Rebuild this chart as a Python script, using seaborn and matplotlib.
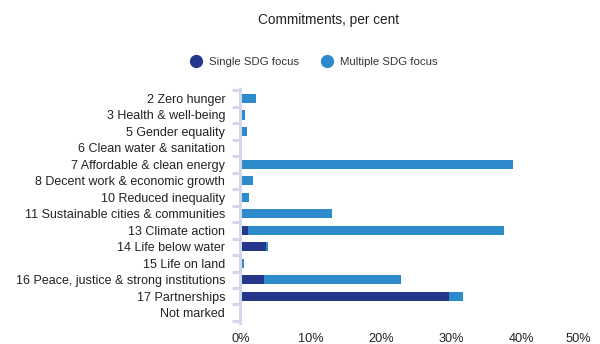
import matplotlib
matplotlib.use("Agg")
import matplotlib.pyplot as plt
from matplotlib.lines import Line2D
import seaborn as sns
import pandas as pd
import numpy as np

categories = [
    "2 Zero hunger",
    "3 Health & well-being",
    "5 Gender equality",
    "6 Clean water & sanitation",
    "7 Affordable & clean energy",
    "8 Decent work & economic growth",
    "10 Reduced inequality",
    "11 Sustainable cities & communities",
    "13 Climate action",
    "14 Life below water",
    "15 Life on land",
    "16 Peace, justice & strong institutions",
    "17 Partnerships",
    "Not marked",
]
single_focus = [0.0, 0.0, 0.0, 0.0, 0.0, 0.0, 0.0, 0.0, 1.0, 3.6, 0.0, 3.35, 29.7, 0.0]
multiple_focus = [2.2, 0.65, 0.95, 0.0, 38.8, 1.8, 1.2, 13.1, 36.5, 0.3, 0.45, 19.55, 2.0, 0.0]
x_ticks = [0, 10, 20, 30, 40, 50]

dark = "#24378a"
light = "#2e8bcb"
axis_col = "#d3d7ec"
text_col = "#222222"

sns.set_theme(style="white")
plt.rcParams["font.family"] = ["Liberation Sans", "DejaVu Sans"]

df = pd.DataFrame({
    "category": categories,
    "single": single_focus,
    "multiple": multiple_focus,
})
df["total"] = df["single"] + df["multiple"]

fig = plt.figure(figsize=(6.0, 3.44), dpi=100)
ax = fig.add_axes([0.4008, 0.055, 0.585, 0.69])

sns.barplot(data=df, y="category", x="total", color=light, width=0.56,
            orient="h", ax=ax, saturation=1, linewidth=0)
sns.barplot(data=df, y="category", x="single", color=dark, width=0.56,
            orient="h", ax=ax, saturation=1, linewidth=0)

n = len(categories)
ax.set_xlim(0, 50)
ax.set_ylim(n - 0.5 + 0.25, -0.5 - 0.15)
ax.set_xticks(x_ticks)
labels = ax.set_xticklabels([f"{t}%" for t in x_ticks], fontsize=9.2, color=text_col)
labels[-1].set_horizontalalignment("right")
labels[-1].set_x(50.2)
ax.set_xlabel("")
ax.set_ylabel("")
ax.tick_params(axis="y", which="major", left=False, length=0, pad=11,
               labelsize=9.0, labelcolor=text_col)
ax.tick_params(axis="x", bottom=False, length=0, pad=6)

# boundary ticks on the category axis
ax.set_yticks(np.arange(-0.5, n + 0.5, 1), minor=True)
ax.tick_params(axis="y", which="minor", left=True, length=6, width=2.2,
               color=axis_col, direction="out")

for side in ["top", "right", "bottom"]:
    ax.spines[side].set_visible(False)
ax.spines["left"].set_color(axis_col)
ax.spines["left"].set_linewidth(2.2)
ax.spines["left"].set_bounds(n - 0.5 + 0.15, -0.5 - 0.05)

fig.text(0.547, 0.942, "Commitments, per cent", ha="center", va="center",
         fontsize=9.8, color=text_col)

handles = [
    Line2D([0], [0], marker="o", linestyle="", markersize=8.5, markerfacecolor=dark,
           markeredgecolor=dark, label="Single SDG focus"),
    Line2D([0], [0], marker="o", linestyle="", markersize=8.5, markerfacecolor=light,
           markeredgecolor=light, label="Multiple SDG focus"),
]
fig.legend(handles=handles, loc="center", bbox_to_anchor=(0.518, 0.82), ncol=2,
           frameon=False, fontsize=8.2, handletextpad=0.15, columnspacing=1.45,
           labelcolor="#333333")

fig.savefig("out.png", dpi=100)
